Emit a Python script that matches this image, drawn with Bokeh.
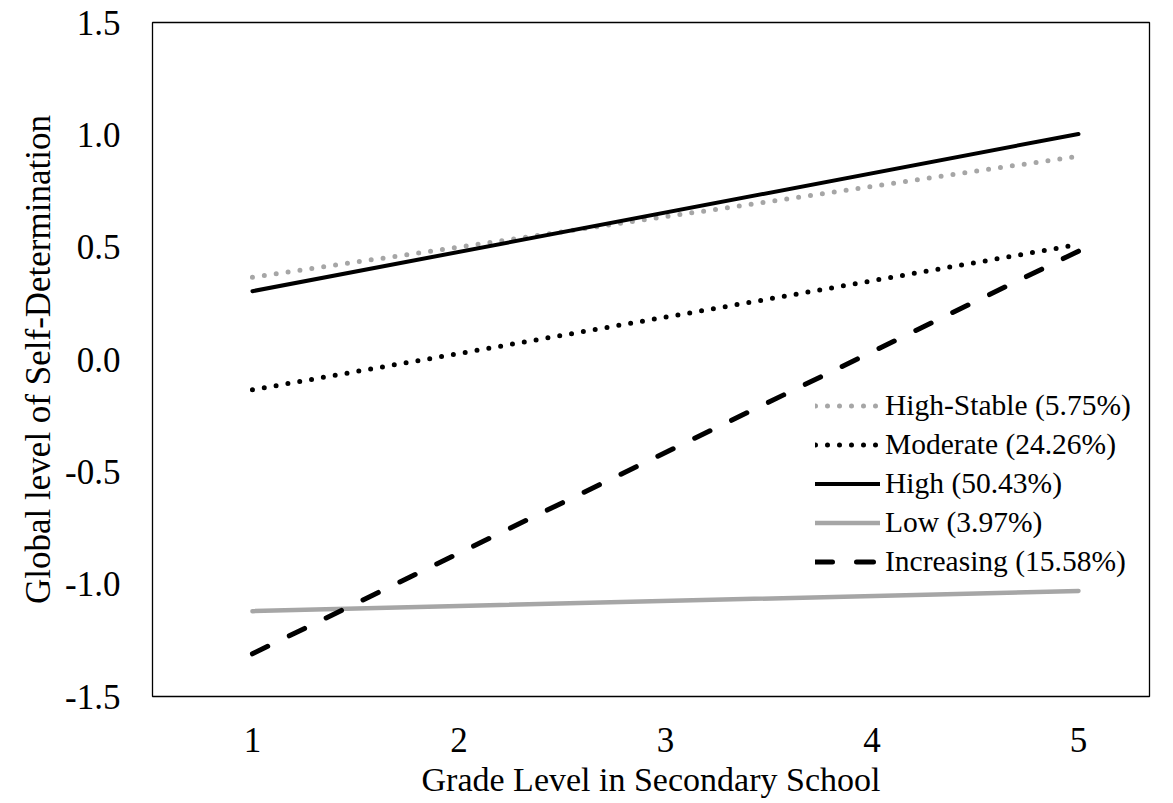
from bokeh.plotting import figure
from bokeh.models import Range1d, FixedTicker, NumeralTickFormatter, Legend, LegendItem
from bokeh.embed import file_html
from bokeh.resources import INLINE

grades = [1, 5]
grade_ticks = [1, 2, 3, 4, 5]
y_ticks = [-1.5, -1.0, -0.5, 0.0, 0.5, 1.0, 1.5]

high_stable = [0.366, 0.905]
moderate = [-0.135, 0.512]
high = [0.304, 1.004]
low = [-1.120, -1.030]
increasing = [-1.310, 0.482]

labels = ["High-Stable (5.75%)", "Moderate (24.26%)", "High (50.43%)",
          "Low (3.97%)", "Increasing (15.58%)"]

FONT = "Liberation Serif"
GRAY = "#a6a6a6"

p = figure(width=1173, height=803, output_backend="svg", toolbar_location=None,
           x_range=Range1d(0.516, 5.344), y_range=Range1d(-1.5, 1.5),
           min_border_left=152, min_border_right=24, min_border_top=22,
           min_border_bottom=107)

p.outline_line_color = "black"
p.outline_line_width = 1.3
p.xgrid.visible = False
p.ygrid.visible = False

for ax in (p.xaxis[0], p.yaxis[0]):
    ax.axis_line_color = None
    ax.major_tick_line_color = None
    ax.minor_tick_line_color = None
    ax.major_tick_out = 0
    ax.major_tick_in = 0
    ax.major_label_text_font = FONT
    ax.major_label_text_font_size = "35px"
    ax.major_label_text_color = "black"
    ax.axis_label_text_font = FONT
    ax.axis_label_text_font_style = "normal"
    ax.axis_label_text_color = "black"

p.xaxis.axis_label_text_font_size = "34px"
p.yaxis.axis_label_text_font_size = "35px"
p.xaxis.ticker = FixedTicker(ticks=grade_ticks)
p.yaxis.ticker = FixedTicker(ticks=y_ticks)
p.yaxis.formatter = NumeralTickFormatter(format="0.0")
p.xaxis.axis_label = "Grade Level in Secondary School"
p.yaxis.axis_label = "Global level of Self-Determination"
p.yaxis.major_label_standoff = 32
p.xaxis.major_label_standoff = 31
p.yaxis.axis_label_standoff = 4
p.xaxis.axis_label_standoff = 6

r_hs = p.line(grades, high_stable, line_color=GRAY, line_width=5,
              line_dash="0 12", line_cap="round")
r_mod = p.line(grades, moderate, line_color="black", line_width=5,
               line_dash="0 12", line_cap="round")
r_high = p.line(grades, high, line_color="black", line_width=4, line_cap="round")
r_low = p.line(grades, low, line_color=GRAY, line_width=4.5, line_cap="round")
r_inc = p.line(grades, increasing, line_color="black", line_width=5,
               line_dash="17 24", line_cap="round")

legend = Legend(items=[LegendItem(label=l, renderers=[r]) for l, r in
                       zip(labels, [r_hs, r_mod, r_high, r_low, r_inc])],
                location=(663, 115))
legend.label_text_font = FONT
legend.label_text_font_size = "29.5px"
legend.label_text_color = "black"
legend.glyph_width = 65
legend.glyph_height = 39
legend.label_height = 39
legend.label_standoff = 5
legend.spacing = 0
legend.padding = 0
legend.margin = 0
legend.border_line_color = None
legend.background_fill_alpha = 0
p.add_layout(legend, "center")

open("out.html", "w").write(file_html(p, INLINE))
